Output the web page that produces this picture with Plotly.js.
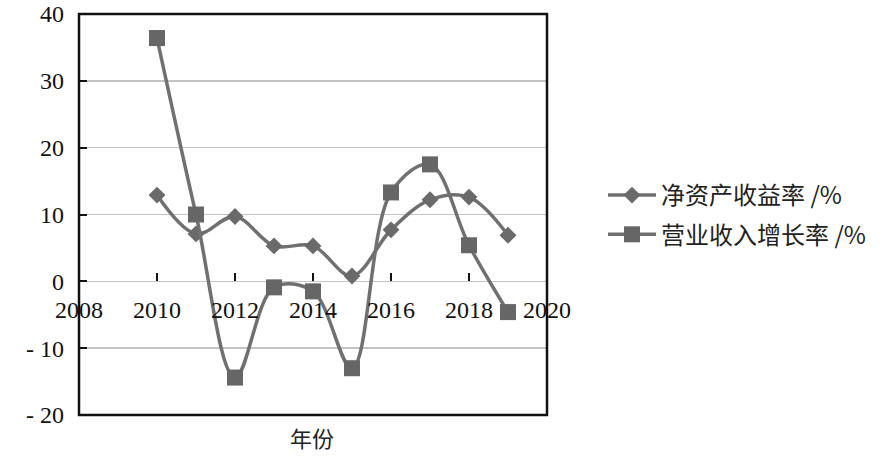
<!DOCTYPE html>
<html>
<head>
<meta charset="utf-8">
<script src="https://cdn.plot.ly/plotly-3.0.1.min.js"></script>
<style>html,body{margin:0;padding:0;background:#fff;}#chart{width:884px;height:458px;}</style>
</head>
<body>
<div id="chart"></div>
<script>
const years = [2010, 2011, 2012, 2013, 2014, 2015, 2016, 2017, 2018, 2019];
const roe = [12.9, 7.1, 9.7, 5.3, 5.3, 0.8, 7.7, 12.2, 12.6, 6.9];
const revenueGrowth = [36.4, 10.0, -14.4, -0.9, -1.5, -13.0, 13.3, 17.5, 5.4, -4.6];
const seriesNames = ['净资产收益率 /%', '营业收入增长率 /%'];
const xTicks = [2008, 2010, 2012, 2014, 2016, 2018, 2020];
const yTicks = [-20, -10, 0, 10, 20, 30, 40];
const yTickText = ['- 20', '- 10', '0', '10', '20', '30', '40'];
const xTitle = '年份';

const lineColor = '#707070';
const traces = [
  {
    x: years, y: roe, name: seriesNames[0], type: 'scatter', mode: 'lines+markers',
    line: {color: lineColor, width: 3.5, shape: 'spline', smoothing: 1},
    marker: {symbol: 'diamond', size: 13, color: '#6a6a6a'},
    legendgroup: 'a'
  },
  {
    x: years, y: revenueGrowth, name: seriesNames[1], type: 'scatter', mode: 'lines+markers',
    line: {color: lineColor, width: 3.5, shape: 'spline', smoothing: 1},
    marker: {symbol: 'square', size: 16, color: '#666666'},
    legendgroup: 'b'
  }
];

const serif = 'Liberation Serif';
const layout = {
  width: 884, height: 458,
  margin: {l: 79, r: 337, t: 14, b: 43},
  paper_bgcolor: '#ffffff', plot_bgcolor: '#ffffff',
  showlegend: true,
  legend: {
    x: (603-79)/468, xanchor: 'left', y: (415-173)/401, yanchor: 'top',
    font: {family: 'Noto Sans CJK SC', size: 24, color: '#222'},
    itemwidth: 48,
    tracegroupgap: 5, bgcolor: 'rgba(0,0,0,0)'
  },
  xaxis: {
    range: [2008, 2020], tickvals: xTicks, ticktext: xTicks.map(String),
    anchor: 'free', position: 1/3,
    ticks: 'inside', ticklen: 8, tickwidth: 2, tickcolor: '#111',
    showgrid: false, zeroline: false, showline: false,
    tickfont: {family: serif, size: 24, color: '#111'},
    ticklabelstandoff: 12,
    title: {text: ''}
  },
  yaxis: {
    range: [-20, 40], tickvals: yTicks, ticktext: yTickText,
    ticks: 'inside', ticklen: 8, tickwidth: 2, tickcolor: '#111',
    showgrid: true, gridcolor: '#c4c4c4', gridwidth: 1.5,
    zeroline: false, showline: false,
    tickfont: {family: serif, size: 24, color: '#111'},
    ticklabelstandoff: 14
  },
  shapes: [
    {type: 'rect', xref: 'paper', yref: 'paper', x0: 0, x1: 1, y0: 0, y1: 1,
     line: {color: '#111', width: 2.5}, fillcolor: 'rgba(0,0,0,0)', layer: 'above'}
  ],
  annotations: [
    {text: xTitle, xref: 'paper', yref: 'paper', x: (312-79)/468, y: (415-437)/401, yanchor: 'middle', showarrow: false,
     font: {family: 'Noto Sans CJK SC', size: 22, color: '#222'}}
  ]
};

Plotly.newPlot('chart', traces, layout, {displayModeBar: false, staticPlot: true});
</script>
</body>
</html>
